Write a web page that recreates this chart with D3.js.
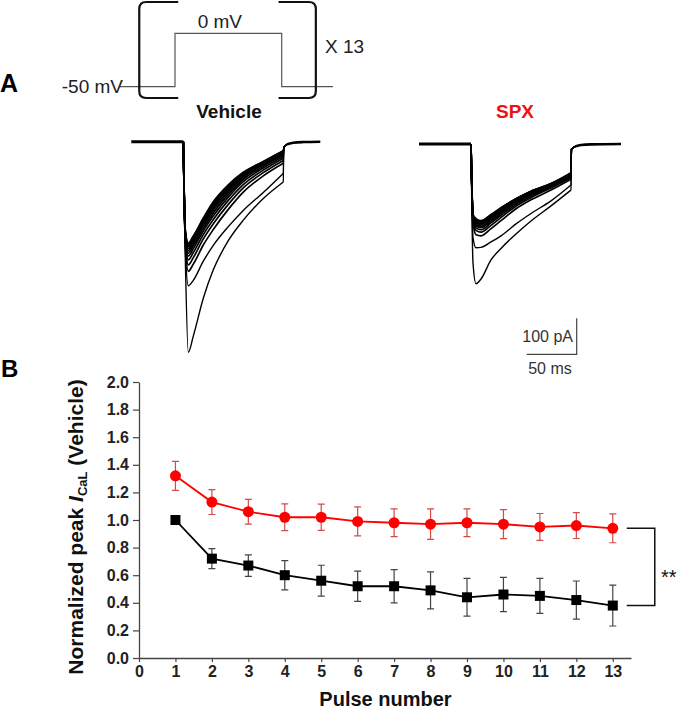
<!DOCTYPE html>
<html>
<head>
<meta charset="utf-8">
<script src="https://cdn.jsdelivr.net/npm/d3@7"></script>
<style>
  html, body { margin: 0; padding: 0; background: #fff; }
  svg { display: block; }
  text { font-family: "Liberation Sans", Arial, Helvetica, sans-serif; }
</style>
</head>
<body>
<div id="chart"></div>
<script>
// ---------------- DATA ----------------
// Panel B: normalized peak I_CaL by pulse number
const pulses = [1, 2, 3, 4, 5, 6, 7, 8, 9, 10, 11, 12, 13];
const xTicks = [0, 1, 2, 3, 4, 5, 6, 7, 8, 9, 10, 11, 12, 13];
const yTicks = [0.0, 0.2, 0.4, 0.6, 0.8, 1.0, 1.2, 1.4, 1.6, 1.8, 2.0];
const vehicleMean = [1.00, 0.72, 0.67, 0.60, 0.56, 0.52, 0.52, 0.49, 0.44, 0.46, 0.45, 0.42, 0.38];
const vehicleSem  = [0.00, 0.073, 0.078, 0.106, 0.112, 0.11, 0.12, 0.134, 0.137, 0.124, 0.127, 0.138, 0.148];
const spxMean = [1.32, 1.13, 1.06, 1.02, 1.02, 0.99, 0.98, 0.97, 0.98, 0.97, 0.95, 0.96, 0.94];
const spxSem  = [0.105, 0.09, 0.09, 0.097, 0.095, 0.105, 0.10, 0.11, 0.10, 0.105, 0.097, 0.094, 0.105];

// Panel A: voltage protocol (ms, mV)
const protoTimes = [-52, 0, 0, 100, 100, 148];
const protoVolts = [-50, -50, 0, 0, -50, -50];

// Panel A: current traces (ms, pA), 13 pulses each
const traceTimes = [0, 2, 5, 10, 20, 30, 45, 60, 80, 100];
const vehicleTraces = [
  [0, -320, -585, -540, -435, -356, -275, -218, -158, -112],
  [0, -300, -400, -385, -332, -288, -236, -191, -141, -88],
  [0, -280, -360, -340, -287, -244, -188, -140, -95, -60],
  [0, -275, -342, -322, -270, -228, -174, -128, -86, -52],
  [0, -270, -328, -308, -258, -216, -163, -119, -79, -46],
  [0, -265, -318, -297, -248, -206, -154, -111, -73, -41],
  [0, -262, -310, -289, -240, -198, -147, -105, -68, -37],
  [0, -258, -303, -282, -233, -191, -141, -100, -64, -34],
  [0, -255, -297, -276, -227, -185, -136, -96, -61, -31],
  [0, -252, -292, -271, -222, -180, -131, -93, -59, -29],
  [0, -250, -288, -267, -218, -175, -127, -90, -57, -27],
  [0, -248, -285, -264, -215, -171, -123, -87, -56, -26],
  [0, -245, -282, -262, -212, -167, -120, -85, -55, -25]
];
const spxTraces = [
  [0, -330, -388, -375, -322, -290, -250, -214, -172, -128],
  [0, -260, -288, -287, -272, -255, -222, -193, -158, -114],
  [0, -220, -252, -255, -235, -213, -180, -155, -128, -98],
  [0, -215, -240, -245, -226, -204, -173, -149, -122, -94],
  [0, -212, -233, -238, -219, -198, -168, -145, -119, -91],
  [0, -210, -228, -232, -214, -193, -164, -141, -117, -89],
  [0, -208, -224, -228, -210, -189, -161, -138, -115, -87],
  [0, -206, -220, -224, -206, -186, -158, -136, -114, -86],
  [0, -204, -217, -221, -203, -183, -156, -134, -113, -85],
  [0, -202, -214, -219, -201, -181, -154, -133, -112, -84],
  [0, -200, -211, -217, -199, -179, -153, -132, -111, -83],
  [0, -198, -209, -215, -197, -178, -152, -131, -110, -82],
  [0, -196, -207, -213, -196, -177, -152, -131, -110, -80]
];
const tailTimes  = [100.5, 104, 110, 120];
const tailValues = [-14, -7, -3, -1];
const panelStart = [-52, -52];   // ms, baseline start (Vehicle, SPX)
const panelEnd   = [137, 150];   // ms, baseline end
const panelNames = ["Vehicle", "SPX"];

// ---------------- SETUP ----------------
const W = 679, H = 711;
const FONT = '"Liberation Sans", Arial, Helvetica, sans-serif';
const svg = d3.select("#chart").append("svg").attr("width", W).attr("height", H);

// ---------------- PANEL A ----------------
svg.append("text").attr("x", 0).attr("y", 92).attr("font-size", 25).attr("font-weight", "bold").text("A");

// protocol
const pX = d3.scaleLinear().domain([0, 100]).range([175, 281.7]);
const pY = d3.scaleLinear().domain([-50, 0]).range([86.7, 33.3]);
svg.append("path")
  .attr("d", d3.line().x(d => pX(d[0])).y(d => pY(d[1]))(protoTimes.map((t, i) => [t, protoVolts[i]])))
  .attr("fill", "none").attr("stroke", "#555").attr("stroke-width", 1.2);

// brackets
function bracket(xv, xh, dir) {
  const r = 7, yt = 2, yb = 98;
  return `M${xh},${yt} L${xv + dir * r},${yt} Q${xv},${yt} ${xv},${yt + r} L${xv},${yb - r} Q${xv},${yb} ${xv + dir * r},${yb} L${xh},${yb}`;
}
svg.append("path").attr("d", bracket(pX(-33.5), pX(3), 1)).attr("fill", "none").attr("stroke", "#111").attr("stroke-width", 2.2);
svg.append("path").attr("d", bracket(pX(132), pX(97), -1)).attr("fill", "none").attr("stroke", "#111").attr("stroke-width", 2.2);

svg.append("text").attr("x", pX(42)).attr("y", 28).attr("text-anchor", "middle").attr("font-size", 19).attr("fill", "#222").text("0 mV");
svg.append("text").attr("x", 123).attr("y", 93).attr("text-anchor", "end").attr("font-size", 19).attr("fill", "#222").text("-50 mV");
svg.append("text").attr("x", 325).attr("y", 53).attr("font-size", 19).attr("fill", "#222").text("X 13");

svg.append("text").attr("x", 229).attr("y", 118).attr("text-anchor", "middle").attr("font-size", 19).attr("font-weight", "bold").attr("fill", "#111").text(panelNames[0]);
svg.append("text").attr("x", 515).attr("y", 118).attr("text-anchor", "middle").attr("font-size", 19).attr("font-weight", "bold").attr("fill", "#ee1111").text(panelNames[1]);

// traces
const tX = d3.scaleLinear().domain([0, 100]).range([0, 100]);
const tY = d3.scaleLinear().domain([0, -600]).range([0, 216]);
const traceLine = d3.line().x(d => tX(d[0])).y(d => tY(d[1])).curve(d3.curveMonotoneX);
const flatLine = d3.line().x(d => tX(d[0])).y(d => tY(d[1]));
const origins = [[183.3, 141.7], [471, 144]];
[vehicleTraces, spxTraces].forEach((traces, p) => {
  const g = svg.append("g").attr("transform", `translate(${origins[p][0]},${origins[p][1]})`);
  g.append("path").attr("d", flatLine([[panelStart[p], 0], [0, 0]]))
    .attr("fill", "none").attr("stroke", "#000").attr("stroke-width", 3);
  const tail = tailTimes.map((t, i) => [t, tailValues[i]]).concat([[panelEnd[p], 0]]);
  g.append("path").attr("d", traceLine(tail.slice(1)))
    .attr("fill", "none").attr("stroke", "#000").attr("stroke-width", 2.6);
  traces.slice().reverse().forEach((tr, k) => {
    const pts = traceTimes.map((t, i) => [t, tr[i]]);
    const isCluster = k < traces.length - 2;
    g.append("path").attr("d", traceLine(pts))
      .attr("fill", "none").attr("stroke", "#000").attr("stroke-width", isCluster ? 1.7 : 1.4);
    g.append("path").attr("d", flatLine([pts[pts.length - 1], [tailTimes[0], tailValues[0]], [tailTimes[1], tailValues[1]]]))
      .attr("fill", "none").attr("stroke", "#000").attr("stroke-width", 1.2);
  });
});

// scale bar (50 ms / 100 pA)
const sbX = 576.7, sbY = 354.3;
svg.append("path")
  .attr("d", `M${sbX - tX(50)},${sbY} L${sbX},${sbY} L${sbX},${sbY - tY(-100)}`)
  .attr("fill", "none").attr("stroke", "#444").attr("stroke-width", 1.2);
svg.append("text").attr("x", 573).attr("y", 342).attr("text-anchor", "end").attr("font-size", 16).attr("fill", "#333").text("100 pA");
svg.append("text").attr("x", 550).attr("y", 373.5).attr("text-anchor", "middle").attr("font-size", 16).attr("fill", "#333").text("50 ms");

// ---------------- PANEL B ----------------
svg.append("text").attr("x", 1).attr("y", 377).attr("font-size", 24).attr("font-weight", "bold").text("B");

const x = d3.scaleLinear().domain([0, 13.5]).range([139, 631]);
const y = d3.scaleLinear().domain([0, 2]).range([658, 382]);

const xAxis = svg.append("g").attr("transform", `translate(0,${y(0)})`)
  .call(d3.axisBottom(x).tickValues(xTicks).tickFormat(d3.format("d")).tickSize(4).tickPadding(4).tickSizeOuter(0));
const yAxis = svg.append("g").attr("transform", `translate(${x(0)},0)`)
  .call(d3.axisLeft(y).tickValues(yTicks).tickFormat(d3.format(".1f")).tickSize(6).tickPadding(4).tickSizeOuter(0));
[xAxis, yAxis].forEach(a => {
  a.attr("font-family", FONT).attr("font-size", 16);
  a.select(".domain").attr("stroke", "#444").attr("stroke-width", 1.3);
  a.selectAll(".tick line").attr("stroke", "#444").attr("stroke-width", 1.2);
  a.selectAll(".tick text").attr("font-family", FONT).attr("font-size", 16).attr("font-weight", "bold").attr("fill", "#222");
});

// axis titles
svg.append("text").attr("x", 385.5).attr("y", 706).attr("text-anchor", "middle")
  .attr("font-size", 20).attr("font-weight", "bold").attr("fill", "#111").text("Pulse number");
const yl = svg.append("text").attr("transform", "translate(83,527) rotate(-90)").attr("text-anchor", "middle")
  .attr("font-size", 21).attr("font-weight", "bold").attr("fill", "#111");
yl.append("tspan").text("Normalized peak ");
yl.append("tspan").attr("font-style", "italic").text("I");
yl.append("tspan").attr("font-size", 13).attr("dy", 4).text("CaL");
yl.append("tspan").attr("dy", -4).text(" (Vehicle)");

// series
const series = [
  { mean: vehicleMean, sem: vehicleSem, color: "#000", err: "#444", shape: "square" },
  { mean: spxMean, sem: spxSem, color: "#ff0000", err: "#d24a4a", shape: "circle" }
];
const line = d3.line().x((d, i) => x(pulses[i])).y(d => y(d));
series.forEach(s => {
  const g = svg.append("g");
  g.append("path").attr("d", line(s.mean)).attr("fill", "none").attr("stroke", s.color).attr("stroke-width", 1.8);
  pulses.forEach((p, i) => {
    if (s.sem[i] <= 0) return;
    const cx = x(p), yt = y(s.mean[i] + s.sem[i]), yb = y(s.mean[i] - s.sem[i]);
    g.append("path").attr("d", `M${cx},${yt} L${cx},${yb} M${cx - 3.5},${yt} L${cx + 3.5},${yt} M${cx - 3.5},${yb} L${cx + 3.5},${yb}`)
      .attr("fill", "none").attr("stroke", s.err).attr("stroke-width", 1.2);
  });
  pulses.forEach((p, i) => {
    if (s.shape === "circle") {
      g.append("circle").attr("cx", x(p)).attr("cy", y(s.mean[i])).attr("r", 5.5).attr("fill", s.color);
    } else {
      g.append("rect").attr("x", x(p) - 5).attr("y", y(s.mean[i]) - 5).attr("width", 10).attr("height", 10).attr("fill", s.color);
    }
  });
});

// significance bracket
const last = pulses.length - 1;
const bx0 = x(pulses[last]) + 14, bx1 = x(pulses[last]) + 42;
svg.append("path")
  .attr("d", `M${bx0},${y(spxMean[last])} L${bx1},${y(spxMean[last])} L${bx1},${y(vehicleMean[last])} L${bx0},${y(vehicleMean[last])}`)
  .attr("fill", "none").attr("stroke", "#111").attr("stroke-width", 1.5);
svg.append("text").attr("x", bx1 + 14).attr("y", 584).attr("text-anchor", "middle").attr("font-size", 20).attr("fill", "#111").text("**");
</script>
</body>
</html>
